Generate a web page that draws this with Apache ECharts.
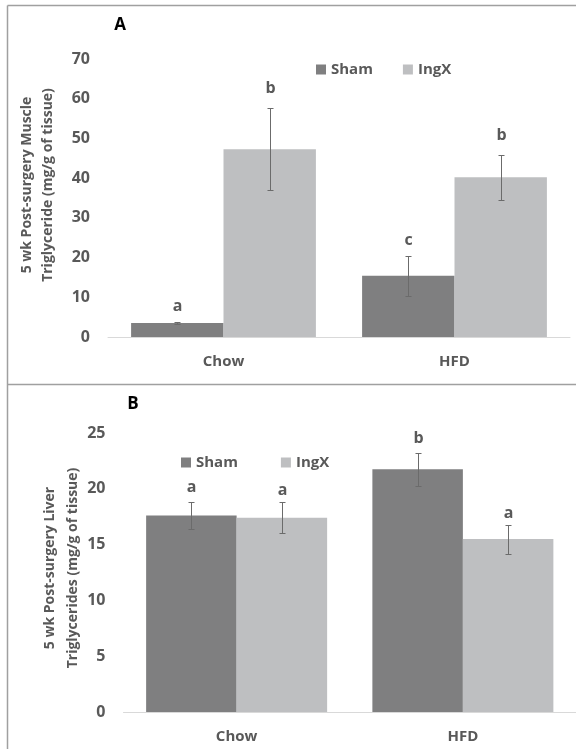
<!DOCTYPE html>
<html>
<head>
<meta charset="utf-8">
<script src="https://cdn.jsdelivr.net/npm/echarts@6/dist/echarts.min.js"></script>
<style>
  html, body { margin: 0; padding: 0; background: #fff; }
  #chart { width: 576px; height: 749px; }
</style>
</head>
<body>
<div id="chart"></div>
<script>
const categories = ['Chow', 'HFD'];

// panel A: muscle triglyceride
const muscleSham = [3.5, 15.4];
const muscleShamErr = [0.3, 5.1];
const muscleIngX = [47.3, 40.2];
const muscleIngXErr = [10.4, 5.6];
const muscleShamLetters = ['a', 'c'];
const muscleIngXLetters = ['b', 'b'];
const muscleTicks = { min: 0, max: 70, interval: 10 };

// panel B: liver triglycerides
const liverSham = [17.6, 21.75];
const liverShamErr = [1.2, 1.5];
const liverIngX = [17.4, 15.5];
const liverIngXErr = [1.4, 1.3];
const liverShamLetters = ['a', 'b'];
const liverIngXLetters = ['a', 'a'];
const liverTicks = { min: 0, max: 25, interval: 5 };

const FONT = 'Open Sans';
const GREY_TXT = '#595959';
const SHAM_COL = '#7f7f80';
const INGX_COL = '#bebfc1';

const chart = echarts.init(document.getElementById('chart'));

function errSeries(idx, means, errs, letters, side, lift) {
  return {
    type: 'custom',
    xAxisIndex: idx,
    yAxisIndex: idx,
    z: 10,
    silent: true,
    data: means.map((m, i) => [i, m, errs[i]]),
    renderItem: function (params, api) {
      const i = api.value(0), m = api.value(1), e = api.value(2);
      const band = api.size([1, 0])[0];
      const barW = band * 0.4;
      const cx = Math.round(api.coord([i, m])[0] + side * barW / 2) + 0.5;
      const yTop = Math.round(api.coord([i, m + e])[1]) + 0.5;
      const yBot = Math.round(api.coord([i, m - e])[1]) + 0.5;
      const st = { stroke: '#6b6b6b', lineWidth: 1 };
      return {
        type: 'group',
        children: [
          { type: 'line', shape: { x1: cx, y1: yTop, x2: cx, y2: yBot }, style: st },
          { type: 'line', shape: { x1: cx - 3, y1: yTop, x2: cx + 3, y2: yTop }, style: st },
          { type: 'line', shape: { x1: cx - 3, y1: yBot, x2: cx + 3, y2: yBot }, style: st },
          {
            type: 'text', x: cx, y: yTop - lift,
            style: {
              text: letters[params.dataIndex], fill: GREY_TXT,
              font: 'bold 16px "' + FONT + '"', align: 'center', verticalAlign: 'middle'
            }
          }
        ]
      };
    }
  };
}

function xAx(idx) {
  return {
    type: 'category', gridIndex: idx, data: categories,
    axisLine: { lineStyle: { color: '#d9d9d9', width: 1 } },
    axisTick: { show: false },
    axisLabel: { color: GREY_TXT, fontFamily: FONT, fontWeight: 'bold', fontSize: 15, margin: 17 }
  };
}
function yAx(idx, t) {
  return {
    type: 'value', gridIndex: idx, min: t.min, max: t.max, interval: t.interval,
    axisLine: { show: false }, axisTick: { show: false }, splitLine: { show: false },
    axisLabel: { color: GREY_TXT, fontFamily: FONT, fontWeight: 'bold', fontSize: 16, margin: 18 }
  };
}
function bar(idx, name, vals, color) {
  return {
    type: 'bar', name: name, xAxisIndex: idx, yAxisIndex: idx, data: vals,
    barGap: '0%', barCategoryGap: '20%', itemStyle: { color: color }, silent: true
  };
}
const legendText = { color: GREY_TXT, fontFamily: FONT, fontWeight: 'bold', fontSize: 15 };
const border = { stroke: '#a0a0a0', lineWidth: 1.5 };
const titleFont = 'bold 14px "' + FONT + '"';

chart.setOption({
  animation: false,
  grid: [
    { left: 108, top: 59, width: 462, height: 278 },
    { left: 123.5, top: 433, width: 468, height: 279 }
  ],
  xAxis: [xAx(0), xAx(1)],
  yAxis: [yAx(0, muscleTicks), yAx(1, liverTicks)],
  legend: [
    { left: 311, top: 57, itemWidth: 10, itemHeight: 10, itemGap: 30, icon: 'rect',
      data: ['Sham', 'IngX'], textStyle: legendText, selectedMode: false },
    { left: 176, top: 450, itemWidth: 10, itemHeight: 10, itemGap: 43, icon: 'rect',
      data: ['Sham', 'IngX'], textStyle: legendText, selectedMode: false }
  ],
  series: [
    bar(0, 'Sham', muscleSham, SHAM_COL),
    bar(0, 'IngX', muscleIngX, INGX_COL),
    bar(1, 'Sham', liverSham, SHAM_COL),
    bar(1, 'IngX', liverIngX, INGX_COL),
    errSeries(0, muscleSham, muscleShamErr, muscleShamLetters, -1, 16),
    errSeries(0, muscleIngX, muscleIngXErr, muscleIngXLetters, 1, 20),
    errSeries(1, liverSham, liverShamErr, liverShamLetters, -1, 15),
    errSeries(1, liverIngX, liverIngXErr, liverIngXLetters, 1, 12)
  ],
  graphic: [
    { type: 'line', shape: { x1: 7.5, y1: 5.5, x2: 576, y2: 5.5 }, style: border },
    { type: 'line', shape: { x1: 7.5, y1: 5.5, x2: 7.5, y2: 749 }, style: border },
    { type: 'line', shape: { x1: 7.5, y1: 384.5, x2: 576, y2: 384.5 }, style: border },
    { type: 'text', x: 120, y: 25, style: { text: 'A', fill: '#000', font: 'bold 17px "' + FONT + '"', align: 'center', verticalAlign: 'middle' } },
    { type: 'text', x: 133, y: 404, style: { text: 'B', fill: '#000', font: 'bold 17px "' + FONT + '"', align: 'center', verticalAlign: 'middle' } },
    { type: 'text', x: 37.5, y: 185, rotation: Math.PI / 2,
      style: { text: '5 wk Post-surgery Muscle\nTriglyceride (mg/g of tissue)', fill: GREY_TXT, font: titleFont,
               lineHeight: 21, align: 'center', verticalAlign: 'middle' } },
    { type: 'text', x: 61.5, y: 568, rotation: Math.PI / 2,
      style: { text: '5 wk Post-surgery Liver\nTriglycerides (mg/g of tissue)', fill: GREY_TXT, font: titleFont,
               lineHeight: 23, align: 'center', verticalAlign: 'middle' } }
  ]
});
</script>
</body>
</html>
